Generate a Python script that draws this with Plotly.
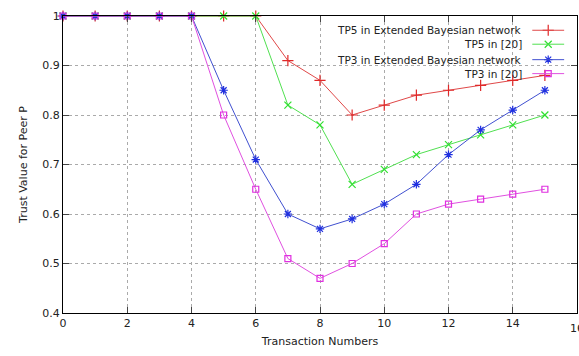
import plotly.graph_objects as go

x = list(range(16))
tp5_ebn = [1, 1, 1, 1, 1, 1, 1, 0.91, 0.87, 0.80, 0.82, 0.84, 0.85, 0.86, 0.87, 0.88]
tp5_20 = [1, 1, 1, 1, 1, 1, 1, 0.82, 0.78, 0.66, 0.69, 0.72, 0.74, 0.76, 0.78, 0.80]
tp3_ebn = [1, 1, 1, 1, 1, 0.85, 0.71, 0.60, 0.57, 0.59, 0.62, 0.66, 0.72, 0.77, 0.81, 0.85]
tp3_20 = [1, 1, 1, 1, 1, 0.80, 0.65, 0.51, 0.47, 0.50, 0.54, 0.60, 0.62, 0.63, 0.64, 0.65]

x_ticks = [0, 2, 4, 6, 8, 10, 12, 14, 16]
y_ticks = [0.4, 0.5, 0.6, 0.7, 0.8, 0.9, 1.0]
y_tick_labels = ["0.4", "0.5", "0.6", "0.7", "0.8", "0.9", "1"]

names = ["TP5 in Extended Bayesian network", "TP5 in [20]",
         "TP3 in Extended Bayesian network", "TP3 in [20]"]
series = [tp5_ebn, tp5_20, tp3_ebn, tp3_20]
colors = ["#e02828", "#30e030", "#2030e0", "#e030e0"]
lcolors = ["#e04848", "#50e050", "#4050d0", "#e050e0"]
symbols = ["cross-thin-open", "x-thin-open", "asterisk-open", "square-open"]
sizes = [8, 7, 7, 6]

FONT = "DejaVu Sans"
fig = go.Figure()
for ys, n, c, lc, s, sz in zip(series, names, colors, lcolors, symbols, sizes):
    fig.add_trace(go.Scatter(
        x=x, y=ys, name=n, mode="lines+markers",
        line=dict(color=lc, width=1),
        marker=dict(symbol=s, size=sz, color=c, line=dict(color=c, width=1.2)),
        cliponaxis=False, showlegend=False))

# manual legend (gnuplot style: text left, sample on right)
row_y = [0.952, 0.905, 0.853, 0.806]  # paper coords
for n, c, lc, s, sz, ry in zip(names, colors, lcolors, symbols, sizes, row_y):
    fig.add_annotation(xref="paper", yref="paper", x=0.896, y=ry, text=n,
                       showarrow=False, xanchor="right", yanchor="middle",
                       font=dict(family=FONT, size=10.5, color="#222"))
    fig.add_shape(type="line", xref="paper", yref="paper",
                  x0=0.913, x1=0.975, y0=ry, y1=ry, line=dict(color=lc, width=1))
    fig.add_trace(go.Scatter(x=[0.944], y=[ry], xaxis="x2", yaxis="y2",
                             mode="markers", showlegend=False, hoverinfo="skip",
                             marker=dict(symbol=s, size=sz, color=c,
                                         line=dict(color=c, width=1.2))))

# last x tick label (cut off at the right edge, as in the original)
fig.add_annotation(xref="x", yref="paper", x=x_ticks[-1], y=0, yshift=-15,
                   text=str(x_ticks[-1]), showarrow=False, xanchor="center",
                   yanchor="middle", font=dict(family=FONT, size=11, color="#222"))

fig.update_layout(
    width=579, height=356,
    margin=dict(l=63, r=2, t=16, b=43, autoexpand=False),
    plot_bgcolor="white", paper_bgcolor="white",
    font=dict(family=FONT, size=11, color="#222"),
    xaxis=dict(range=[0, 16], tickvals=x_ticks, showgrid=True,
               gridcolor="#aaaaaa", griddash="dot", gridwidth=1,
               showline=True, linecolor="black", linewidth=1.2, mirror="ticks",
               ticks="inside", ticklen=6, tickcolor="#444", zeroline=False,
               automargin=False,
               title=dict(text="Transaction Numbers", standoff=8,
                          font=dict(family=FONT, size=11))),
    yaxis=dict(range=[0.4, 1.0], tickvals=y_ticks, ticktext=y_tick_labels,
               showgrid=True,
               gridcolor="#aaaaaa", griddash="dot", gridwidth=1,
               showline=True, linecolor="black", linewidth=1.2, mirror="ticks",
               ticks="inside", ticklen=6, tickcolor="#444", zeroline=False,
               automargin=False,
               title=dict(text="Trust Value for Peer P", standoff=12,
                          font=dict(family=FONT, size=11))),
    xaxis2=dict(range=[0, 1], overlaying="x", visible=False, anchor="y2"),
    yaxis2=dict(range=[0, 1], overlaying="y", visible=False, anchor="x2"),
)
fig.write_html("out.html", post_script="document.body.style.margin='0px';",
               config={"displayModeBar": False})
